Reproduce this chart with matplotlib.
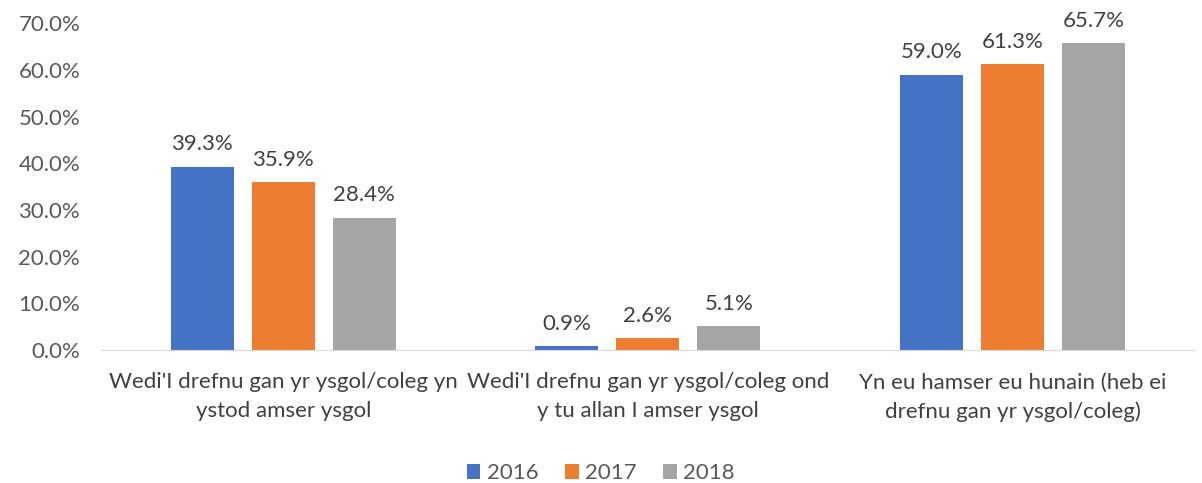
import matplotlib.pyplot as plt
import numpy as np
from matplotlib.ticker import FuncFormatter

plt.rcParams['font.family'] = ['Lato', 'DejaVu Sans']

categories = ["Wedi'I drefnu gan yr ysgol/coleg yn\nystod amser ysgol",
              "Wedi'I drefnu gan yr ysgol/coleg ond\ny tu allan I amser ysgol",
              "Yn eu hamser eu hunain (heb ei\ndrefnu gan yr ysgol/coleg)"]
years = ['2016', '2017', '2018']
v2016 = [39.3, 0.9, 59.0]
v2017 = [35.9, 2.6, 61.3]
v2018 = [28.4, 5.1, 65.7]
colors = ['#4472C4', '#ED7D31', '#A5A5A5']

fig = plt.figure(figsize=(12.02, 4.83), dpi=100)
ax = fig.add_axes([0.084, 0.275, 0.910, 0.677])

x = np.arange(len(categories))
w = 0.173
step = 0.222
for k, (vals, yr) in enumerate(zip([v2016, v2017, v2018], years)):
    pos = x + (k - 1) * step
    ax.bar(pos, vals, width=w, color=colors[k], label=yr)
    for p, v in zip(pos, vals):
        ax.text(p, v + 2.6, f'{v:.1f}%', ha='center', va='bottom',
                fontsize=16, color='#404040')

ax.set_xlim(-0.5, 2.5)
ax.set_ylim(0, 70)
ax.set_yticks(np.arange(0, 71, 10))
ax.yaxis.set_major_formatter(FuncFormatter(lambda v, _: f'{v:.1f}%'))
ax.set_xticks(x)
ax.set_xticklabels(categories, fontsize=16, color='#404040', linespacing=1.55)
ax.tick_params(axis='y', length=0, labelsize=16, labelcolor='#595959', pad=15)
ax.tick_params(axis='x', length=0, pad=16)
for s in ['top', 'right', 'left']:
    ax.spines[s].set_visible(False)
ax.spines['bottom'].set_color('#D9D9D9')

fig.legend(loc='lower center', bbox_to_anchor=(0.5, -0.042), ncol=3, frameon=False,
           fontsize=16, handlelength=0.6, handleheight=0.6, columnspacing=1.2,
           handletextpad=0.3, labelcolor='#595959')

fig.savefig('out.png', dpi=100)
